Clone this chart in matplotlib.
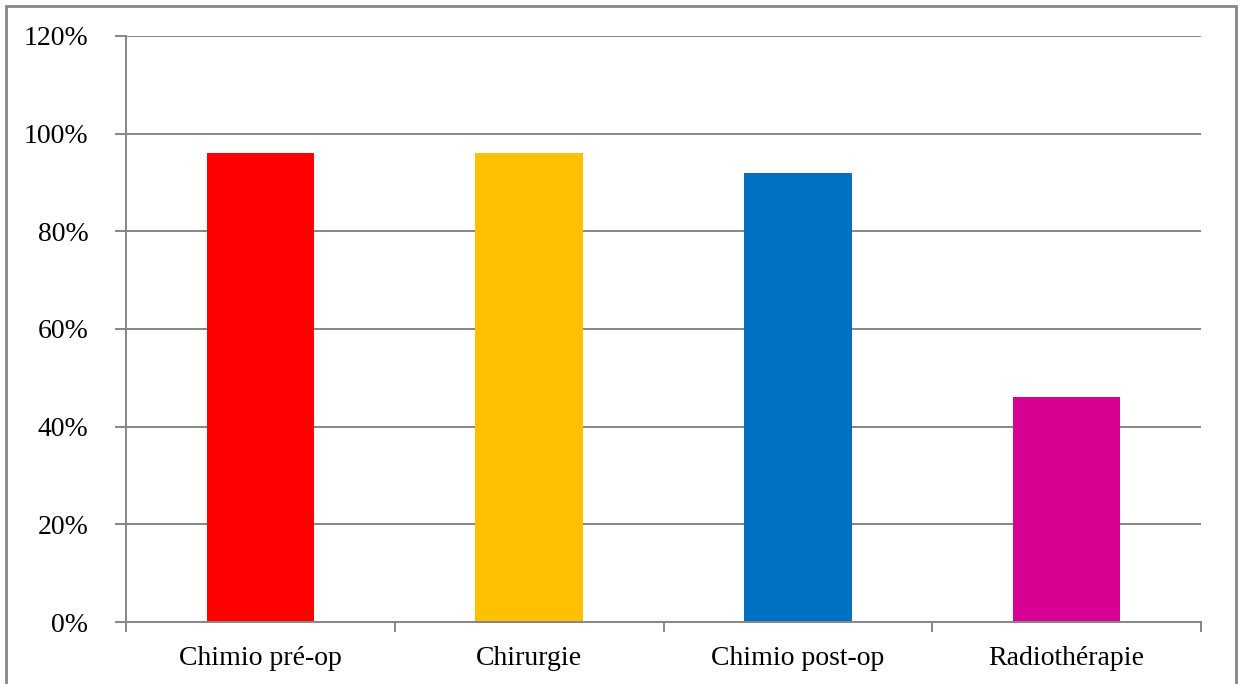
import matplotlib
matplotlib.use("Agg")
import matplotlib.pyplot as plt
from matplotlib.patches import Rectangle
from matplotlib.ticker import FuncFormatter, MultipleLocator

categories = ["Chimio pré-op", "Chirurgie", "Chimio post-op", "Radiothérapie"]
values = [0.96, 0.96, 0.92, 0.46]
colors = ["#FF0000", "#FFC000", "#0070C0", "#D60093"]

plt.rcParams["font.family"] = ["Liberation Serif", "DejaVu Serif"]

W, H = 1240, 684
fig = plt.figure(figsize=(W / 100, H / 100), dpi=100)
ax = fig.add_axes([126 / W, (H - 622) / H, (1201 - 126) / W, (622 - 36) / H])

grid_c = "#868686"
x = range(len(categories))
ax.bar(x, values, width=0.4, color=colors, zorder=3)

ax.set_xlim(-0.5, len(categories) - 0.5)
ax.set_ylim(0, 1.2)
ax.yaxis.set_major_locator(MultipleLocator(0.2))
ax.yaxis.set_major_formatter(FuncFormatter(lambda v, p: f"{v * 100:.0f}%"))
ax.grid(axis="y", color=grid_c, linewidth=1.4, zorder=0)

# category labels centred, tick marks on category boundaries
ax.set_xticks(list(x))
ax.set_xticklabels(categories)
ax.tick_params(axis="x", length=0, pad=17, labelsize=20)
ax.set_xticks([i - 0.5 for i in range(len(categories) + 1)], minor=True)
ax.tick_params(axis="x", which="minor", length=7, width=1.4, color=grid_c)
ax.tick_params(axis="y", length=8, width=1.4, color=grid_c, pad=19, labelsize=20)

for side in ("top", "right"):
    ax.spines[side].set_visible(False)
for side in ("left", "bottom"):
    ax.spines[side].set_color(grid_c)
    ax.spines[side].set_linewidth(1.4)
ax.spines["bottom"].set_zorder(4)

# outer frame around the chart area
fig.patches.append(Rectangle((6 / W, -0.01), (1236 - 6) / W, (H - 6) / H + 0.01,
                             transform=fig.transFigure, fill=False,
                             edgecolor=grid_c, linewidth=2))

fig.savefig("out.png", dpi=100)
